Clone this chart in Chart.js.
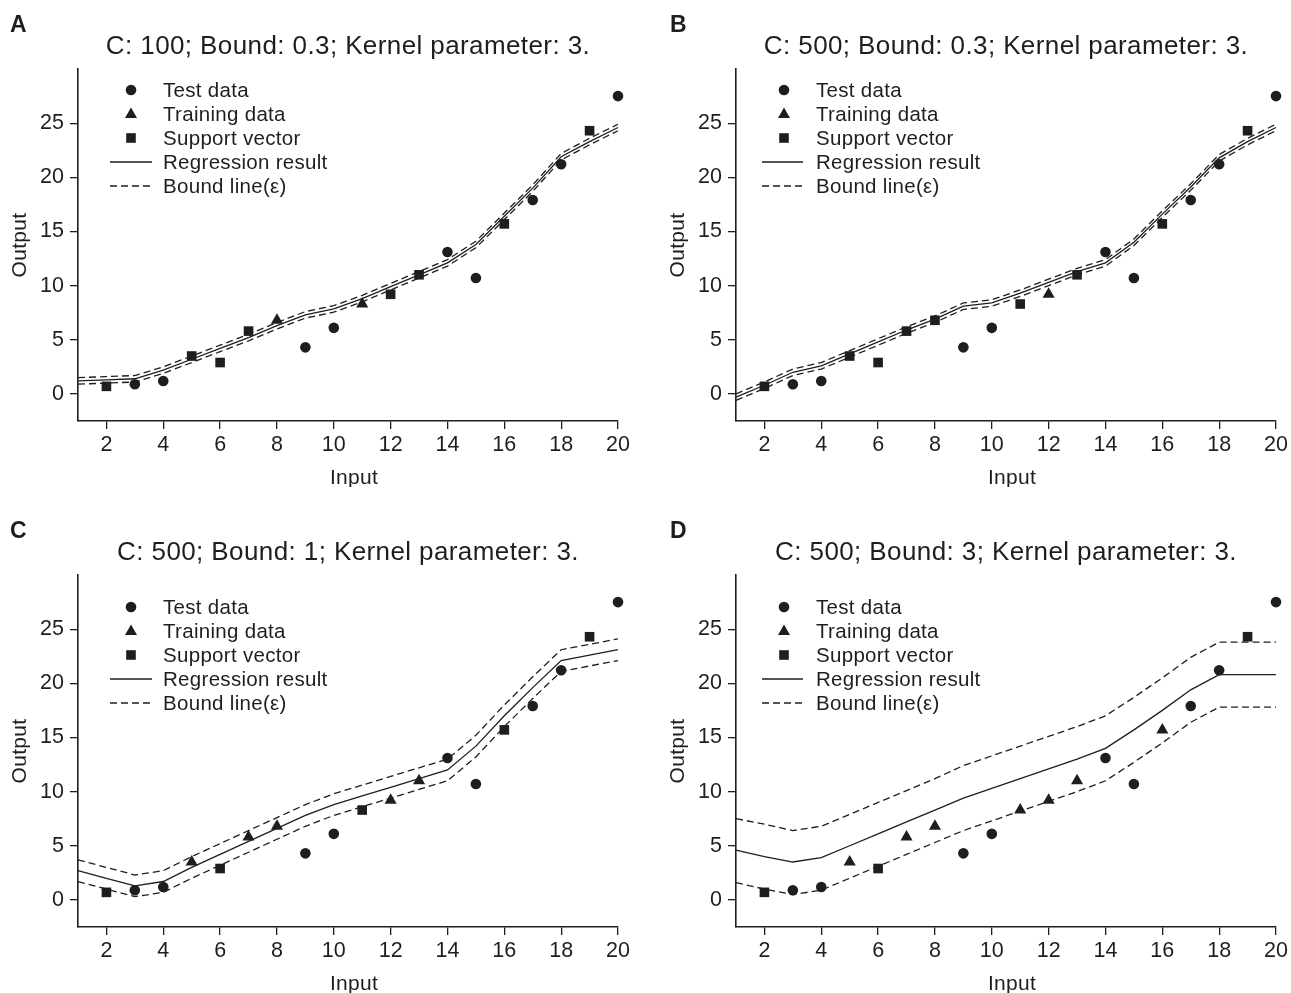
<!DOCTYPE html>
<html><head><meta charset="utf-8">
<script src="https://cdn.jsdelivr.net/npm/chart.js@4.4.1/dist/chart.umd.min.js"></script>
<style>
html,body{margin:0;padding:0;background:#fff;overflow:hidden;width:1291px;height:993px;}
canvas{position:absolute;}
</style></head><body>
<canvas id="cA" width="640" height="487" style="left:0px;top:0px"></canvas>
<canvas id="cB" width="640" height="487" style="left:658px;top:0px"></canvas>
<canvas id="cC" width="640" height="487" style="left:0px;top:506px"></canvas>
<canvas id="cD" width="640" height="487" style="left:658px;top:506px"></canvas>
<script>
// ---- data ----
const inputs  = [2, 3, 4, 5, 6, 7, 8, 9, 10, 11, 12, 13, 14, 15, 16, 17, 18, 19, 20];
const outputs = [0.7, 0.9, 1.2, 3.5, 2.9, 5.8, 6.8, 4.3, 6.1, 8.3, 9.2, 11.0, 13.1, 10.7, 15.7, 17.9, 21.2, 24.3, 27.5];

// T = test data, R = training data, S = support vector
const rolesA = ['S','T','T','S','S','S','R','T','T','R','S','S','T','T','S','T','T','S','T'];
const rolesB = ['S','T','T','S','S','S','S','T','T','S','R','S','T','T','S','T','T','S','T'];
const rolesC = ['S','T','T','R','S','R','R','T','T','S','R','R','T','T','S','T','T','S','T'];
const rolesD = ['S','T','T','R','S','R','R','T','T','R','R','R','T','T','R','T','T','S','T'];

const lineX = [1, 2, 3, 4, 5, 6, 7, 8, 9, 10, 11, 12, 13, 14, 15, 16, 17, 18, 19, 20];

const regA = [1.2, 1.3, 1.4, 2.2, 3.2, 4.2, 5.2, 6.3, 7.3, 7.85, 8.8, 9.9, 11.0, 12.1, 13.8, 16.4, 19.0, 21.9, 23.3, 24.6];
const upA  = [1.5, 1.6, 1.7, 2.5, 3.5, 4.5, 5.5, 6.6, 7.6, 8.15, 9.1, 10.2, 11.3, 12.4, 14.1, 16.7, 19.3, 22.2, 23.6, 24.9];
const loA  = [0.9, 1.0, 1.1, 1.9, 2.9, 3.9, 4.9, 6.0, 7.0, 7.55, 8.5, 9.6, 10.7, 11.8, 13.5, 16.1, 18.7, 21.6, 23.0, 24.3];

const regB = [-0.3, 0.8, 2.0, 2.6, 3.7, 4.8, 5.9, 6.9, 8.1, 8.4, 9.3, 10.3, 11.3, 12.1, 14.0, 16.6, 19.1, 21.8, 23.3, 24.6];
const upB  = [0.0, 1.1, 2.3, 2.9, 4.0, 5.1, 6.2, 7.2, 8.4, 8.7, 9.6, 10.6, 11.6, 12.4, 14.3, 16.9, 19.4, 22.1, 23.6, 24.9];
const loB  = [-0.6, 0.5, 1.7, 2.3, 3.4, 4.5, 5.6, 6.6, 7.8, 8.1, 9.0, 10.0, 11.0, 11.8, 13.7, 16.3, 18.8, 21.5, 23.0, 24.3];

const regC = [2.7, 2.0, 1.3, 1.7, 3.0, 4.2, 5.4, 6.6, 7.8, 8.8, 9.6, 10.4, 11.2, 12.0, 14.2, 17.0, 19.6, 22.1, 22.6, 23.1];
const upC  = [3.7, 3.0, 2.3, 2.7, 4.0, 5.2, 6.4, 7.6, 8.8, 9.8, 10.6, 11.4, 12.2, 13.0, 15.2, 18.0, 20.6, 23.1, 23.6, 24.1];
const loC  = [1.7, 1.0, 0.3, 0.7, 2.0, 3.2, 4.4, 5.6, 6.8, 7.8, 8.6, 9.4, 10.2, 11.0, 13.2, 16.0, 18.6, 21.1, 21.6, 22.1];

const regD = [4.6, 4.0, 3.5, 3.9, 5.0, 6.1, 7.2, 8.3, 9.4, 10.3, 11.2, 12.1, 13.0, 14.0, 15.7, 17.5, 19.4, 20.8, 20.8, 20.8];
const upD  = [7.5, 7.0, 6.4, 6.8, 7.9, 9.0, 10.1, 11.2, 12.4, 13.3, 14.2, 15.1, 16.0, 17.0, 18.7, 20.5, 22.4, 23.8, 23.8, 23.8];
const loD  = [1.6, 1.0, 0.5, 0.9, 2.0, 3.1, 4.2, 5.3, 6.4, 7.3, 8.2, 9.1, 10.0, 11.0, 12.7, 14.5, 16.4, 17.8, 17.8, 17.8];

const xTicks = [2, 4, 6, 8, 10, 12, 14, 16, 18, 20];
const yTicks = [0, 5, 10, 15, 20, 25];

const panelLetters = ['A', 'B', 'C', 'D'];
const panelTitles = [
  'C: 100; Bound: 0.3; Kernel parameter: 3.',
  'C: 500; Bound: 0.3; Kernel parameter: 3.',
  'C: 500; Bound: 1; Kernel parameter: 3.',
  'C: 500; Bound: 3; Kernel parameter: 3.'
];
const legendLabels = ['Test data', 'Training data', 'Support vector', 'Regression result', 'Bound line(\u03b5)'];
const xTitle = 'Input';
const yTitle = 'Output';

// ---- drawing ----
const INK = '#1e1e1e';
const FONT = '"Liberation Sans", Arial, Helvetica, sans-serif';
Chart.defaults.font.family = FONT;
Chart.defaults.color = INK;

function drawMarker(ctx, kind, x, y) {
  ctx.beginPath();
  if (kind === 'circle') { ctx.arc(x, y, 5.3, 0, Math.PI * 2); }
  else if (kind === 'triangle') { ctx.moveTo(x, y - 6.5); ctx.lineTo(x + 6, y + 4); ctx.lineTo(x - 6, y + 4); ctx.closePath(); }
  else { ctx.rect(x - 4.8, y - 4.8, 9.6, 9.6); }
  ctx.fill();
}

const decor = {
  id: 'decor',
  afterDraw(chart, args, o) {
    const ctx = chart.ctx, a = chart.chartArea;
    ctx.save();
    ctx.fillStyle = INK; ctx.strokeStyle = INK;
    // panel letter
    ctx.font = 'bold 23px ' + FONT;
    ctx.textAlign = 'left'; ctx.textBaseline = 'alphabetic';
    ctx.fillText(o.letter, o.letterX, 32);
    // title
    ctx.font = '26px ' + FONT;
    ctx.letterSpacing = '0.4px';
    ctx.textAlign = 'center';
    ctx.fillText(o.title, (a.left + a.right) / 2, 54);
    // axis titles
    ctx.letterSpacing = '0.3px';
    ctx.font = '21px ' + FONT;
    ctx.textBaseline = 'middle';
    ctx.fillText(xTitle, (a.left + a.right) / 2 + 6, 478);
    ctx.save();
    ctx.translate(20, (a.top + a.bottom) / 2);
    ctx.rotate(-Math.PI / 2);
    ctx.fillText(yTitle, 0, 0);
    ctx.restore();
    // legend
    ctx.letterSpacing = '0.3px';
    ctx.font = '20.5px ' + FONT;
    ctx.textAlign = 'left';
    const kinds = ['circle', 'triangle', 'rect', 'solid', 'dash'];
    for (let i = 0; i < 5; i++) {
      const y = a.top + o.legTop + i * 24;
      const k = kinds[i];
      if (k === 'solid' || k === 'dash') {
        ctx.lineWidth = 1.3;
        ctx.setLineDash(k === 'dash' ? [7, 4] : []);
        ctx.beginPath();
        ctx.moveTo(a.left + o.lineX0, y); ctx.lineTo(a.left + o.lineX1, y);
        ctx.stroke();
        ctx.setLineDash([]);
      } else {
        drawMarker(ctx, k, a.left + o.markX, y);
      }
      ctx.fillText(legendLabels[i], a.left + o.textX, y + 1);
    }
    ctx.restore();
  }
};

function pts(roles, r) {
  const out = [];
  inputs.forEach((x, i) => { if (roles[i] === r) out.push({ x: x, y: outputs[i] }); });
  return out;
}
function line(arr) { return lineX.map((x, i) => ({ x: x, y: arr[i] })); }

function makePanel(id, idx, roles, reg, up, lo, leg) {
  const pointDs = (label, r, style, radius) => ({
    label, data: pts(roles, r), pointStyle: style, pointRadius: radius, pointHoverRadius: radius,
    pointBackgroundColor: INK, pointBorderWidth: 0, showLine: false, clip: false
  });
  const lineDs = (label, arr, dash) => ({
    label, data: line(arr), showLine: true, pointRadius: 0, borderColor: INK, borderWidth: 1.3,
    borderDash: dash, fill: false, tension: 0, clip: false
  });
  new Chart(document.getElementById(id), {
    type: 'scatter',
    data: {
      datasets: [
        pointDs(legendLabels[0], 'T', 'circle', 5.3),
        pointDs(legendLabels[1], 'R', 'triangle', 7),
        pointDs(legendLabels[2], 'S', 'rect', 6.8),
        lineDs(legendLabels[3], reg, []),
        lineDs(legendLabels[4], up, [7, 4]),
        lineDs(legendLabels[4], lo, [7, 4])
      ]
    },
    options: {
      responsive: false, animation: false, devicePixelRatio: 1,
      layout: { padding: { top: 69, right: 22, left: 0, bottom: 0 } },
      plugins: {
        legend: { display: false }, tooltip: { enabled: false }, title: { display: false },
        decor: Object.assign({ letter: panelLetters[idx], title: panelTitles[idx] }, leg)
      },
      scales: {
        x: {
          type: 'linear', min: 1, max: 20,
          afterBuildTicks: s => { s.ticks = xTicks.map(v => ({ value: v })); },
          afterFit: s => { s.height = 66; },
          ticks: { color: INK, font: { size: 21.5 }, padding: 3, maxRotation: 0, autoSkip: false },
          grid: { drawOnChartArea: false, drawTicks: true, tickLength: 8, color: INK, lineWidth: 1.3 },
          border: { display: true, color: INK, width: 1.6 }
        },
        y: {
          type: 'linear', min: -2.5, max: 30,
          afterBuildTicks: s => { s.ticks = yTicks.map(v => ({ value: v })); },
          afterFit: s => { s.width = 78; },
          ticks: { color: INK, font: { size: 21.5 }, padding: 6, autoSkip: false },
          grid: { drawOnChartArea: false, drawTicks: true, tickLength: 8, color: INK, lineWidth: 1.3 },
          border: { display: true, color: INK, width: 1.6 }
        }
      }
    },
    plugins: [decor]
  });
}

const legLeft  = { legTop: 21, markX: 53, textX: 85, lineX0: 32, lineX1: 74, letterX: 10 };
const legRight = { legTop: 21, markX: 48, textX: 80, lineX0: 26, lineX1: 67, letterX: 12 };
makePanel('cA', 0, rolesA, regA, upA, loA, legLeft);
makePanel('cB', 1, rolesB, regB, upB, loB, legRight);
makePanel('cC', 2, rolesC, regC, upC, loC, Object.assign({}, legLeft, { legTop: 32 }));
makePanel('cD', 3, rolesD, regD, upD, loD, Object.assign({}, legRight, { legTop: 32 }));
</script>
</body></html>
